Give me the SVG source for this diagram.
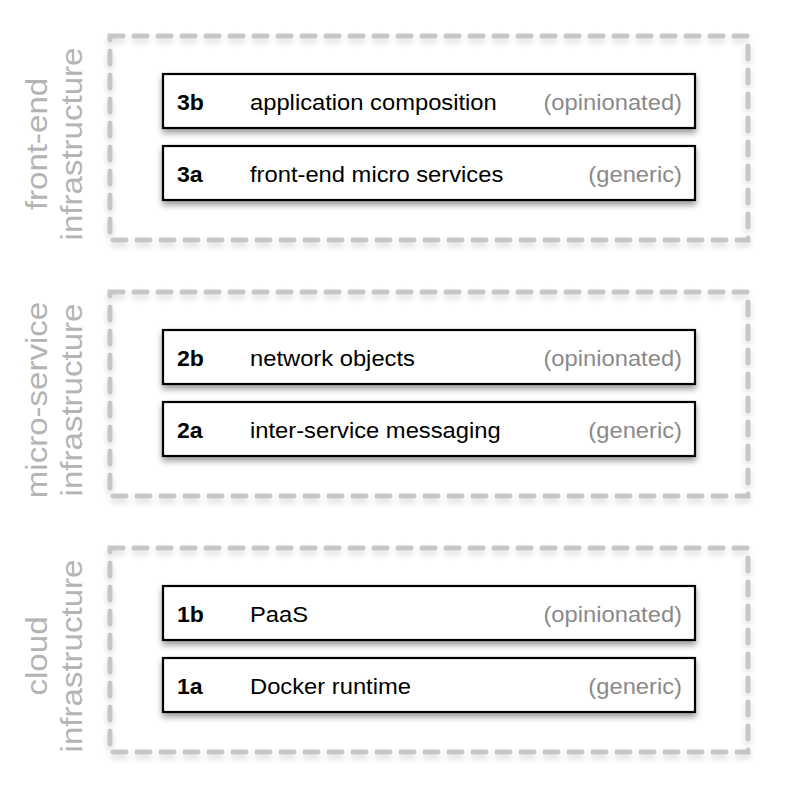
<svg xmlns="http://www.w3.org/2000/svg" width="790" height="802" viewBox="0 0 790 802">
<defs>
<filter id="sh" x="-10%" y="-30%" width="120%" height="180%">
<feGaussianBlur in="SourceAlpha" stdDeviation="3"/>
<feOffset dx="0" dy="4" result="b"/>
<feComponentTransfer><feFuncA type="linear" slope="0.4"/></feComponentTransfer>
<feMerge><feMergeNode/><feMergeNode in="SourceGraphic"/></feMerge>
</filter>
<filter id="sh2" x="-10%" y="-10%" width="120%" height="130%">
<feGaussianBlur in="SourceAlpha" stdDeviation="3"/>
<feOffset dx="0" dy="4" result="b"/>
<feComponentTransfer><feFuncA type="linear" slope="0.15"/></feComponentTransfer>
<feMerge><feMergeNode/><feMergeNode in="SourceGraphic"/></feMerge>
</filter>
</defs>
<style>
.grp{fill:none;stroke:#c6c6c6;stroke-width:5;stroke-dasharray:13 11;stroke-linecap:round;}
.box{fill:#fff;stroke:#000;stroke-width:2.2;}
.id{font-family:"Liberation Sans",Arial,sans-serif;font-size:22px;font-weight:bold;fill:#000;}
.lbl{font-family:"Liberation Sans",Arial,sans-serif;font-size:22px;fill:#000;}
.tag{font-family:"Liberation Sans",Arial,sans-serif;font-size:22px;fill:#8a8a8a;text-anchor:end;}
.side{font-family:"Liberation Sans",Arial,sans-serif;font-size:29px;fill:#b4b4b4;text-anchor:middle;}
</style>
<rect width="790" height="802" fill="#fff"/>

<g id="front-end">
<rect class="grp" x="110" y="36" width="638" height="204" filter="url(#sh2)"/>
<text class="side" transform="translate(47,144) rotate(-90) scale(1.14,1)">front-end</text>
<text class="side" transform="translate(82,144) rotate(-90) scale(1.14,1)">infrastructure</text>
</g>
<g id="node-3b">
<rect class="box" x="163" y="74" width="532" height="54" filter="url(#sh)"/>
<text class="id" transform="translate(177,110) scale(1.05,1)">3b</text>
<text class="lbl" transform="translate(250,110) scale(1.08,1)">application composition</text>
<text class="tag" transform="translate(682,110) scale(1.08,1)">(opinionated)</text>
</g>
<g id="node-3a">
<rect class="box" x="163" y="146" width="532" height="54" filter="url(#sh)"/>
<text class="id" transform="translate(177,182) scale(1.05,1)">3a</text>
<text class="lbl" transform="translate(250,182) scale(1.08,1)">front-end micro services</text>
<text class="tag" transform="translate(682,182) scale(1.08,1)">(generic)</text>
</g>

<g id="micro-service">
<rect class="grp" x="110" y="292" width="638" height="204" filter="url(#sh2)"/>
<text class="side" transform="translate(47,400) rotate(-90) scale(1.14,1)">micro-service</text>
<text class="side" transform="translate(82,400) rotate(-90) scale(1.14,1)">infrastructure</text>
</g>
<g id="node-2b">
<rect class="box" x="163" y="330" width="532" height="54" filter="url(#sh)"/>
<text class="id" transform="translate(177,366) scale(1.05,1)">2b</text>
<text class="lbl" transform="translate(250,366) scale(1.08,1)">network objects</text>
<text class="tag" transform="translate(682,366) scale(1.08,1)">(opinionated)</text>
</g>
<g id="node-2a">
<rect class="box" x="163" y="402" width="532" height="54" filter="url(#sh)"/>
<text class="id" transform="translate(177,438) scale(1.05,1)">2a</text>
<text class="lbl" transform="translate(250,438) scale(1.08,1)">inter-service messaging</text>
<text class="tag" transform="translate(682,438) scale(1.08,1)">(generic)</text>
</g>

<g id="cloud">
<rect class="grp" x="110" y="548" width="638" height="204" filter="url(#sh2)"/>
<text class="side" transform="translate(47,656) rotate(-90) scale(1.14,1)">cloud</text>
<text class="side" transform="translate(82,656) rotate(-90) scale(1.14,1)">infrastructure</text>
</g>
<g id="node-1b">
<rect class="box" x="163" y="586" width="532" height="54" filter="url(#sh)"/>
<text class="id" transform="translate(177,622) scale(1.05,1)">1b</text>
<text class="lbl" transform="translate(250,622) scale(1.08,1)">PaaS</text>
<text class="tag" transform="translate(682,622) scale(1.08,1)">(opinionated)</text>
</g>
<g id="node-1a">
<rect class="box" x="163" y="658" width="532" height="54" filter="url(#sh)"/>
<text class="id" transform="translate(177,694) scale(1.05,1)">1a</text>
<text class="lbl" transform="translate(250,694) scale(1.08,1)">Docker runtime</text>
<text class="tag" transform="translate(682,694) scale(1.08,1)">(generic)</text>
</g>
<g id="connectors"></g>
</svg>
